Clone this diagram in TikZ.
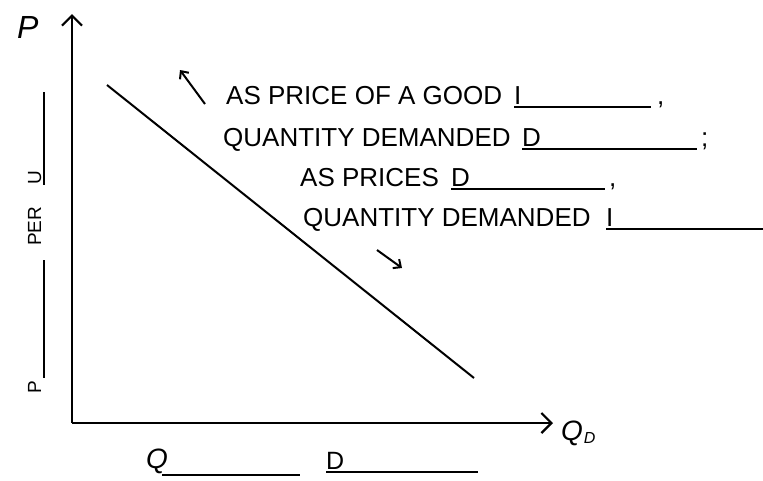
\documentclass[tikz,border=0pt]{standalone}
\usepackage{fontspec}
\setmainfont{Liberation Sans}
\usetikzlibrary{arrows.meta}
\newcommand{\fillin}[2]{\rlap{\rule[-4pt]{#2}{1.9pt}}\makebox[#2][l]{#1}}
\tikzstyle{txt} = [font=\fontsize{26}{30}\selectfont, inner sep=0pt, anchor=base west]
\tikzstyle{small} = [font=\fontsize{19}{22}\selectfont, inner sep=0pt, anchor=base west]
\tikzstyle{hand} = [font=\fontsize{28}{30}\selectfont\itshape, inner sep=0pt, anchor=base west]
\tikzstyle{axis} = [line width=2.2pt, -{Straight Barb[length=10pt,width=20pt]}]
\tikzstyle{pointer} = [line width=2pt, -{Straight Barb[length=6pt,width=11pt]}]

\begin{document}
\begin{tikzpicture}[x=1pt,y=-1pt]
\useasboundingbox (0,0) rectangle (763,480);
% axes
\coordinate (O) at (72,423);
\coordinate (ytop) at (72,14);
\coordinate (xend) at (553,423);
\draw[axis] (O) -- (ytop);
\draw[axis] (O) -- (xend);
\node[hand, font=\fontsize{32}{34}\selectfont\itshape] (plab) at (17,38) {P};
\node[hand] (qdlab) at (561,440) {Q\kern1pt\raisebox{-3pt}{\fontsize{16}{16}\selectfont D}};
\node[small, rotate=90] (unit) at (41,394) {P\,\fillin{}{118pt}\hspace{14pt}PER\hspace{22pt}\fillin{U}{93pt}};
\node[hand] (qbot) at (146,468) {Q};
\node[small] (qblank) at (162,472) {\fillin{}{138pt}};
\node[small, font=\fontsize{25}{28}\selectfont] (dbot) at (326,469) {\fillin{D}{152pt}};
% demand curve
\coordinate (d1) at (107,85);
\coordinate (d2) at (474,378);
\draw[line width=2pt] (d1) -- (d2);
% text
\node[txt] (l1) at (226,104) {AS PRICE OF A GOOD};
\node[txt] (f1) at (514,104) {\fillin{I}{137pt}\hspace{6pt},};
\node[txt] (l2) at (223,146) {QUANTITY DEMANDED};
\node[txt] (f2) at (522,146) {\fillin{D}{175pt}\hspace{4pt};};
\node[txt] (l3) at (300,186) {AS PRICES};
\node[txt] (f3) at (451,186) {\fillin{D}{154pt}\hspace{4pt},};
\node[txt] (l4) at (303,226) {QUANTITY DEMANDED};
\node[txt] (f4) at (606,226) {\fillin{I}{157pt}};
\coordinate (a1) at (205,104);
\coordinate (a2) at (180,70);
\coordinate (b1) at (377,250);
\coordinate (b2) at (402,268);
\draw[pointer] (a1) -- (a2);
\draw[pointer] (b1) -- (b2);
\end{tikzpicture}
\end{document}
